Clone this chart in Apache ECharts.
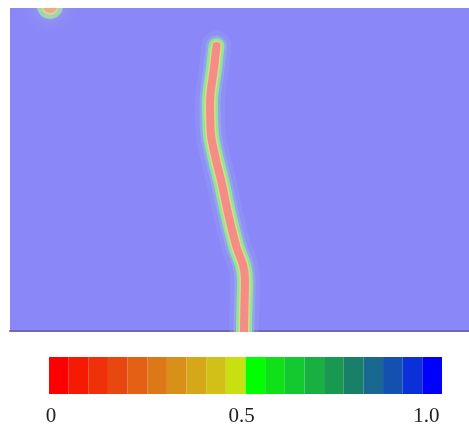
<!DOCTYPE html>
<html>
<head>
<meta charset="utf-8">
<script src="https://cdn.jsdelivr.net/npm/echarts@6/dist/echarts.min.js"></script>
<style>
html,body{margin:0;padding:0;background:#fff;}
#main{width:469px;height:433px;}
</style>
</head>
<body>
<div id="main"></div>
<script>
// crack path (field coordinates, y down)
var crackX = [206.5, 204, 200, 201, 206.5, 211.5, 218, 226.5, 233, 235, 234, 234];
var crackY = [38, 60, 94, 127, 154, 174, 205, 239, 257, 272, 323, 340];
// small damaged spot at the top edge
var spotX = [40];
var spotY = [-2];
// colour bar
var barColors = ['#ff0000', '#f61a04', '#f03008', '#e84810', '#e46014', '#dc7818', '#d89018', '#d4a818', '#d0c018', '#c8e010',
                 '#00ff00', '#10e018', '#14c830', '#18b040', '#189850', '#188068', '#186890', '#1450b0', '#0c30d8', '#0000ff'];
var tickLabels = ['0', '0.5', '1.0'];
var tickValues = [0.005, 0.49, 0.96];

var chart = echarts.init(document.getElementById('main'));

var crack = crackX.map(function (x, i) { return [x, crackY[i]]; });
var spot = spotX.map(function (x, i) { return [x, spotY[i]]; });

// layers of the crack, outside in
var layers = [
	{ w: 30, c: 'rgba(160,170,240,0.25)' },
	{ w: 21, c: 'rgba(150,185,225,0.55)' },
	{ w: 16, c: '#94e494' },
	{ w: 11, c: '#d2dc92' },
	{ w: 8, c: '#f58c86' }
];
var series = layers.map(function (l) {
	return {
		type: 'line', xAxisIndex: 0, yAxisIndex: 0,
		data: crack, smooth: 0.3, showSymbol: false, silent: true,
		lineStyle: { width: l.w, color: l.c, cap: 'round', join: 'round' }
	};
});

// spot layers
[
	{ s: 60, c: { type: 'radial', x: 0.5, y: 0.5, r: 0.5, colorStops: [{ offset: 0, color: 'rgba(170,190,225,0.8)' }, { offset: 1, color: 'rgba(138,135,248,0)' }] } },
	{ s: 26, c: '#a6e2a2' },
	{ s: 18, c: '#d8dc92' },
	{ s: 14, c: '#f2a078' }
].forEach(function (l) {
	series.push({
		type: 'scatter', xAxisIndex: 0, yAxisIndex: 0, data: spot, silent: true, clip: false,
		symbolSize: l.s, itemStyle: { color: l.c }
	});
});

// colour bar as stacked bars
barColors.forEach(function (c) {
	series.push({
		type: 'bar', xAxisIndex: 1, yAxisIndex: 1, stack: 'bar', silent: true,
		barWidth: 37, data: [1 / barColors.length], itemStyle: { color: c }
	});
});

chart.setOption({
	animation: false,
	grid: [
		{ left: 10, top: 8, width: 459, height: 323, backgroundColor: '#8a87f8', show: true, borderWidth: 0 },
		{ left: 49, top: 357, width: 393, height: 37 }
	],
	// white masks so the marks stay inside the field
	graphic: [
		{ type: 'rect', z: 100, shape: { x: 0, y: 0, width: 469, height: 8 }, style: { fill: '#fff' }, silent: true },
		{ type: 'rect', z: 100, shape: { x: 0, y: 332, width: 469, height: 22 }, style: { fill: '#fff' }, silent: true }
	],
	xAxis: [
		{ type: 'value', min: 0, max: 459, gridIndex: 0,
			axisLine: { show: true, onZero: false, lineStyle: { color: '#7468ac', width: 2 } },
			axisTick: { show: false }, axisLabel: { show: false }, splitLine: { show: false } },
		{ type: 'value', min: 0, max: 1, gridIndex: 1,
			axisLine: { show: false }, axisTick: { show: false }, splitLine: { show: false },
			axisLabel: {
				customValues: tickValues, margin: 12,
				fontFamily: 'Liberation Serif', fontSize: 21, color: '#222',
				formatter: function (v) { return tickLabels[tickValues.indexOf(v)]; }
			} }
	],
	yAxis: [
		{ type: 'value', min: 0, max: 323, inverse: true, gridIndex: 0, show: false },
		{ type: 'category', data: [''], gridIndex: 1, show: false }
	],
	series: series
});
</script>
</body>
</html>
